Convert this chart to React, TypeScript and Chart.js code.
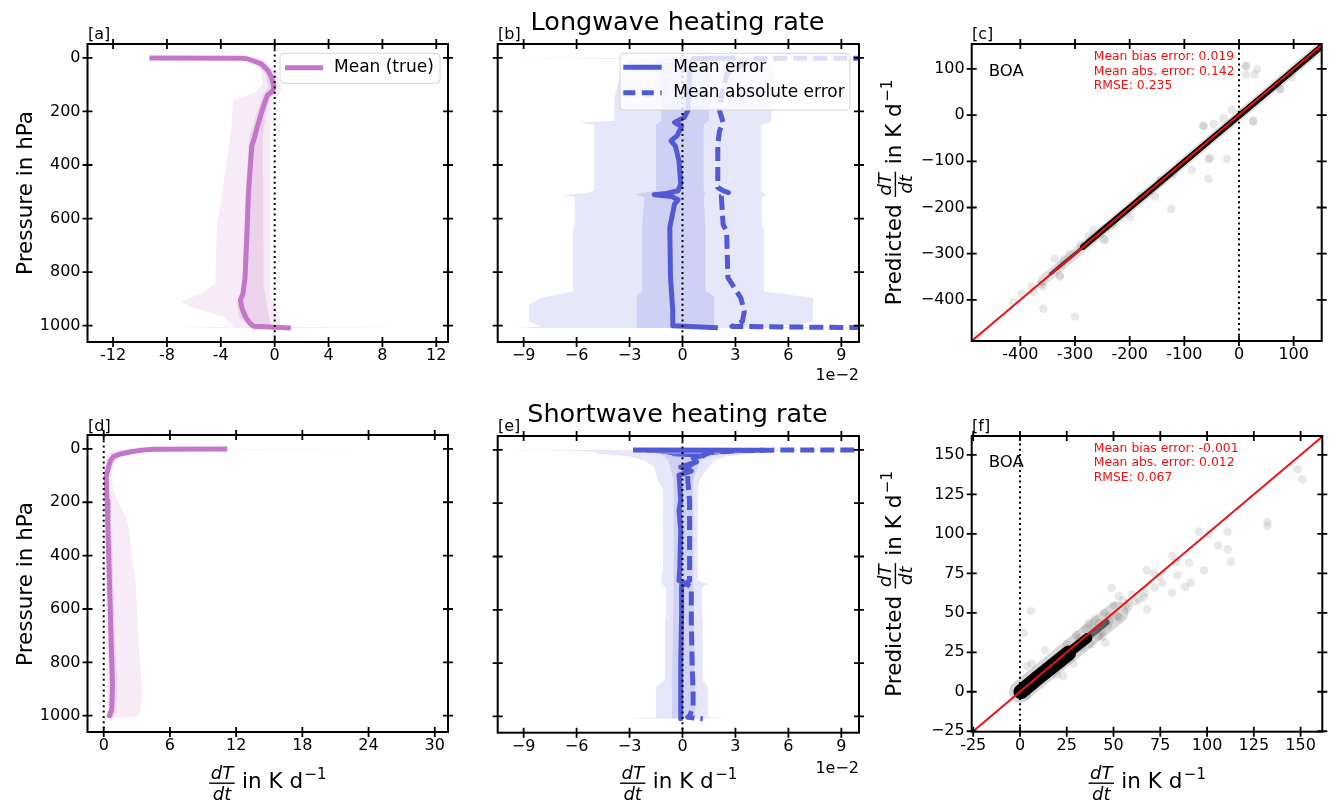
import React, { useEffect, useRef } from 'react';
import { Chart, registerables } from 'chart.js';

Chart.register(...registerables);

// ================= DATA =================
// Pressure axis ticks (shared by profile panels)
const P_TICKS = [0, 200, 400, 600, 800, 1000];
const P_LABELS = ['0', '200', '400', '600', '800', '1000'];

// ---- [a] Longwave: true heating rate (K d-1)
const A_XTICKS = [-12, -8, -4, 0, 4, 8, 12];
const A_XLABELS = ['-12', '-8', '-4', '0', '4', '8', '12'];
const A_P = [0.2, 1.5, 4, 22, 47, 72, 100, 115, 125, 141, 175, 200, 250, 297, 330, 400, 508, 645, 820, 880, 905, 940, 969, 990, 1002, 1009];
const A_MEAN = [-9.3, -2.35, -1.98, -1.0, -0.5, -0.24, -0.1, -0.08, -0.2, -0.55, -0.8, -0.95, -1.25, -1.5, -1.7, -1.8, -1.95, -2.05, -2.2, -2.35, -2.55, -2.4, -2.15, -1.85, -1.55, 1.2];
const A_OUT_P = [0, 3.5, 6, 22, 50, 100, 130, 157, 255, 330, 505, 630, 840, 880, 910, 930, 965, 995, 1004, 1010];
const A_OUT_L = [-12.8, -4.0, -2.6, -1.5, -1.0, -0.9, -1.5, -3.1, -3.2, -3.4, -3.9, -4.3, -4.4, -5.4, -7.0, -6.2, -3.9, -3.2, -3.0, -8.2];
const A_OUT_R = [0.0, -1.4, -1.0, -0.4, 0.1, 0.5, 0.5, -0.2, -0.35, -0.35, -0.35, -0.35, -0.35, -0.3, -0.2, 0.1, 0.35, 0.45, 0.4, 11.9];
const A_IN_P = [0.2, 1.5, 22, 60, 110, 140, 200, 300, 500, 700, 850, 920, 970, 1000, 1009];
const A_IN_L = [-9.5, -2.6, -1.3, -0.7, -0.5, -0.9, -1.3, -1.9, -2.15, -2.3, -2.4, -2.8, -2.6, -1.9, -1.9];
const A_IN_R = [-2.0, -1.6, -0.7, -0.1, 0.1, -0.3, -0.6, -0.9, -0.85, -0.85, -0.8, -0.6, -0.4, -0.3, 1.5];

// ---- [b] Longwave errors (units of 1e-2 K d-1)
const E_XTICKS = [-9, -6, -3, 0, 3, 6, 9];
const E_XLABELS = ['\u22129', '\u22126', '\u22123', '0', '3', '6', '9'];
const B_ME_P = [0.2, 2, 60, 147, 197, 222, 241, 255, 290, 309, 330, 384, 471, 496, 506, 511, 518, 530, 546, 633, 820, 944, 1000, 1008];
const B_ME = [3.0, 0.6, 0.4, 0.35, 0.3, 0.1, -0.45, -0.05, -0.3, -0.65, -0.4, -0.2, -0.1, -0.25, -0.9, -1.6, -0.6, -0.25, -0.45, -0.72, -0.68, -0.55, -0.55, 2.0];
const B_MAE_P = [0.2, 2, 60, 147, 197, 241, 272, 322, 484, 496, 503, 515, 622, 647, 820, 896, 946, 984, 1003, 1010];
const B_MAE = [15, 4, 2.5, 2.2, 2.1, 2.3, 2.1, 2.0, 2.0, 2.3, 2.6, 2.2, 2.3, 2.5, 2.57, 3.3, 3.5, 3.4, 2.8, 15];
const B_OUT_P = [0, 4, 60, 147, 235, 241, 250, 496, 505, 511, 520, 621, 634, 871, 896, 921, 984, 996, 1003, 1009];
const B_OUT_L = [-10.5, -3.0, -3.5, -3.86, -3.86, -5.9, -5.0, -5.0, -5.5, -6.8, -6.1, -6.1, -6.2, -6.2, -8.0, -8.7, -8.7, -8.3, -8.0, -9.6];
const B_OUT_R = [10.0, 5.0, 5.2, 5.2, 5.0, 5.0, 4.45, 4.45, 4.6, 4.8, 4.5, 4.5, 4.6, 4.6, 7.4, 7.4, 7.4, 6.5, 5.0, 10.0];
const B_IN_P = [0.2, 1.5, 60, 147, 235, 250, 496, 509, 520, 634, 871, 890, 996, 1009];
const B_IN_L = [-3.0, -1.5, -1.3, -1.2, -1.2, -1.5, -1.5, -2.7, -2.15, -2.3, -2.3, -2.6, -2.6, -2.6];
const B_IN_R = [3.0, 1.6, 1.5, 1.5, 1.5, 1.2, 1.2, 1.3, 1.2, 1.3, 1.3, 1.8, 1.8, 1.8];

// ---- [c] Longwave scatter (K d-1), BOA
const C_TICKS = [-400, -300, -200, -100, 0, 100];
const C_XLABELS = ['-400', '-300', '-200', '-100', '0', '100'];
const C_YLABELS = ['\u2212400', '\u2212300', '\u2212200', '\u2212100', '0', '100'];
const C_X = [11.6, 33, 12.8, 28.4, 75.8, 97, -64.8, 25.7, -55.7, -22, -55.7, -124, -199, -245, -337, -328, -358, -300, -413, -380, -397, -362, -480, -324.6, -359, -376, -327.5, -266.5, -248, -153.7, -144.5, -86.5, -53, -65.3, -47, 1.8, 26.2, 75, 14, -13.4, -28.7, -290, -275, -230, -310, -320, -180, -120];
const C_Y = [107, 100, 87.7, 87.7, 56.7, 82, -22.7, -11.9, -94.8, -94.8, -138, -203, -221, -270, -311, -347, -419, -436, -405, -371, -387, -366, -478, -324, -371, -382, -349.6, -248.5, -268.7, -176, -140, -118.6, -93.3, -23.4, -19, 5.4, -14, 56, 106.5, 11.3, -6.7, -280, -262, -238, -300, -312, -175, -128];
const C_CORE_X = [-285, -250, -150, -50, 50, 148];
const C_CORE_Y = [-285, -250, -151, -51, 48, 146];
const C_TAIL_X = [-345, -300, -270];
const C_TAIL_Y = [-344, -300, -270];
const C_HALO_X = [-360, -250, -100, 50, 150];
const C_HALO_Y = [-359, -251, -101, 48, 148];
const C_STATS = ['Mean bias error: 0.019', 'Mean abs. error: 0.142', 'RMSE: 0.235'];

// ---- [d] Shortwave: true heating rate (K d-1)
const D_XTICKS = [0, 6, 12, 18, 24, 30];
const D_XLABELS = ['0', '6', '12', '18', '24', '30'];
const D_P = [0.2, 1, 5, 10, 18, 28, 45, 70, 106, 193, 300, 442, 691, 890, 977, 1008];
const D_MEAN = [11.2, 4.5, 3.4, 2.6, 1.6, 0.9, 0.6, 0.42, 0.22, 0.3, 0.38, 0.48, 0.65, 0.8, 0.72, 0.45];
const D_OUT_P = [0, 3.5, 6, 12, 20, 40, 80, 115, 140, 165, 200, 252, 300, 375, 500, 625, 752, 914, 990, 1008];
const D_OUT_L = [0.5, 2.0, 1.5, 0.6, 0.3, 0.15, 0.05, 0.0, 0.02, 0.05, 0.1, 0.12, 0.15, 0.17, 0.2, 0.22, 0.25, 0.3, 0.3, 0.3];
const D_OUT_R = [29.8, 8.0, 4.5, 3.0, 2.0, 1.2, 0.8, 0.6, 0.85, 1.0, 1.3, 2.0, 2.3, 2.45, 2.9, 3.05, 3.2, 3.5, 3.3, 2.9];
const D_IN_P = [0.2, 1, 5, 12, 20, 40, 80, 115, 200, 400, 700, 900, 990, 1008];
const D_IN_L = [4.0, 3.8, 2.8, 2.0, 1.2, 0.5, 0.3, 0.15, 0.18, 0.3, 0.45, 0.55, 0.5, 0.35];
const D_IN_R = [11.5, 5.0, 3.8, 2.8, 1.8, 1.0, 0.6, 0.35, 0.5, 0.8, 1.0, 1.25, 1.1, 0.9];

// ---- [e] Shortwave errors (units of 1e-2 K d-1)
const E_ME_P = [0.2, 1, 2, 3, 4, 5, 6, 8, 10, 12, 15, 20, 30, 45, 55, 65, 80, 95, 115, 190, 227, 300, 440, 490, 502, 509, 520, 615, 800, 1002, 1009];
const E_ME = [-2.8, 4.6, -2.0, 3.2, -1.5, 2.5, -1.2, 2.0, -0.8, 1.5, -0.5, 1.2, 0.6, 0.8, 0.3, -0.1, 0.5, -0.2, -0.17, -0.1, -0.2, -0.1, -0.15, -0.2, 0.2, -0.05, -0.05, -0.05, -0.1, -0.1, -0.1];
const E_MAE_P = [0.2, 1, 3, 6, 10, 20, 40, 65, 90, 115, 190, 300, 490, 502, 515, 640, 815, 902, 965, 998, 1003, 1009];
const E_MAE = [12, 5, 3, 2.5, 1.5, 1.2, 0.8, 0.3, 0.3, 0.3, 0.4, 0.4, 0.4, 0.2, 0.5, 0.5, 0.55, 0.6, 0.6, 0.4, 0.3, 1.15];
const E_OUT_P = [0, 4, 6, 15, 25, 40, 65, 90, 115, 150, 440, 490, 502, 515, 627, 640, 865, 890, 1002, 1009];
const E_OUT_L = [-10.5, -6.0, -5.0, -4.8, -3.0, -2.15, -1.6, -1.5, -1.4, -1.1, -1.1, -1.2, -1.2, -0.93, -0.93, -1.0, -1.0, -1.5, -1.5, -3.1];
const E_OUT_R = [10.0, 6.0, 4.5, 3.9, 2.5, 1.8, 1.5, 1.2, 0.96, 0.87, 0.87, 0.87, 1.44, 1.1, 1.1, 1.15, 1.15, 1.44, 1.44, 2.5];
const E_IN_P = [0.2, 1, 5, 15, 40, 115, 500, 900, 1002, 1009];
const E_IN_L = [-3.0, -2.5, -1.8, -1.2, -0.8, -0.5, -0.5, -0.6, -0.6, -0.6];
const E_IN_R = [5.0, 4.0, 3.0, 2.0, 1.0, 0.6, 0.6, 0.7, 0.7, 0.7];

// ---- [f] Shortwave scatter (K d-1), BOA
const F_TICKS = [-25, 0, 25, 50, 75, 100, 125, 150];
const F_XLABELS = ['-25', '0', '25', '50', '75', '100', '125', '150'];
const F_YLABELS = ['\u221225', '0', '25', '50', '75', '100', '125', '150'];
const F_X = [148.4, 151, 132.3, 132.3, 110.9, 95.7, 101, 111, 112.7, 105.9, 98.4, 90.4, 84.1, 88.3, 81.4, 91.2, 83.2, 81.4, 67.7, 74.3, 71.6, 76, 67, 60, 63.6, 68, 49, 52.8, 58.2, 45.7, 42.1, 47.5, 44, 36.8, 5.9, 2, 3.8, 6.3, 13.4, 31.2, 13.4, 19.7, 28.6, 23, 3.9, 2.1, 30, 35, 40, 45, 50, 55, 38, 42, 25, 47, 52, 57, 62, 66, 72, 44, 48, 53, 39, 33, 58];
const F_Y = [140.9, 134.6, 107.5, 105, 101.4, 101.4, 100, 90.2, 82.4, 92.8, 76.9, 81.7, 73.8, 66.5, 62.7, 69, 82, 86, 76.9, 73, 75, 69, 62.7, 61.7, 58.5, 52, 65.9, 60.6, 56.4, 31, 43.7, 48, 35, 43.7, 51.1, 37.4, 16.3, 17.9, 26.3, 33.7, 9.9, 10.9, 17.9, 9.9, -2.7, -1.6, 36, 40, 46, 50, 55, 58, 30, 35, 30, 42, 48, 52, 57, 60, 66, 38, 45, 47, 41, 28, 54];
const F_CORE_X = [0.5, 10, 20, 26];
const F_CORE_Y = [0, 9.3, 18.8, 24.5];
const F_CORE2_X = [0.5, 18, 36];
const F_CORE2_Y = [0, 17, 34];
const F_CORE3_X = [0, 25, 46];
const F_CORE3_Y = [0, 23.8, 44];
const F_HALO_X = [0, 20, 40, 52];
const F_HALO_Y = [0, 19.5, 39, 50];
const F_STATS = ['Mean bias error: -0.001', 'Mean abs. error: 0.012', 'RMSE: 0.067'];

// ================= STYLE =================
const FAM = '"DejaVu Sans", "Liberation Sans", sans-serif';
const PINK = '#c476c8';
const PINK_OUT = 'rgba(196,118,200,0.15)';
const PINK_IN = 'rgba(196,118,200,0.22)';
const BLUE = '#5159d7';
const BLUE_OUT = 'rgba(81,89,215,0.14)';
const BLUE_IN = 'rgba(81,89,215,0.16)';
const DASH = [14, 6];
const DOT = [2, 3.3];
const LW = 5;
const PT_FILL = 'rgba(0,0,0,0.09)';

const zip = (xs: number[], ys: number[]) => xs.map((x, i) => ({ x, y: ys[i] }));
const F = (size: number, style = '') => `${style ? style + ' ' : ''}${size}px ${FAM}`;

function band(P: number[], L: number[], R: number[], color: string, order: number) {
  return [
    { data: zip(L, P), borderWidth: 0, borderColor: 'transparent', pointRadius: 0, fill: false, order },
    { data: zip(R, P), borderWidth: 0, borderColor: 'transparent', pointRadius: 0, fill: '-1', backgroundColor: color, order },
  ];
}
function line(X: number[], Y: number[], color: string, width: number, order: number, dash: number[] = [], cap = 'butt') {
  return { data: zip(X, Y), borderColor: color, borderWidth: width, borderDash: dash, pointRadius: 0, fill: false, order, borderJoinStyle: 'round', borderCapStyle: cap, showLine: true };
}
function zeroLine(yMin: number, yMax: number) {
  return line([0, 0], [yMin, yMax], '#000', 2, 1, DOT);
}
function points(X: number[], Y: number[]) {
  return { data: zip(X, Y), pointRadius: 4.3, backgroundColor: PT_FILL, borderWidth: 0, borderColor: 'transparent', order: 10 };
}

// ================= DECOR =================
function text(ctx: CanvasRenderingContext2D, s: string, x: number, y: number, size: number, align: CanvasTextAlign = 'left', color = '#000', baseline: CanvasTextBaseline = 'alphabetic') {
  ctx.font = F(size);
  ctx.fillStyle = color;
  ctx.textAlign = align;
  ctx.textBaseline = baseline;
  ctx.fillText(s, x, y);
}
function rotText(ctx: CanvasRenderingContext2D, s: string, bx: number, cy: number, size: number) {
  ctx.save();
  ctx.translate(bx, cy);
  ctx.rotate(-Math.PI / 2);
  text(ctx, s, 0, 0, size, 'center');
  ctx.restore();
}
function dTdt(ctx: CanvasRenderingContext2D, cx: number, cy: number, rotated: boolean, prefix: string) {
  const main = 21.5, frac = 18, sup = 15;
  ctx.save();
  ctx.font = F(main);
  const wPre = prefix ? ctx.measureText(prefix).width : 0;
  const wMid = ctx.measureText(' in K d').width;
  ctx.font = F(frac, 'italic');
  const wFrac = Math.max(ctx.measureText('dT').width, ctx.measureText('dt').width) + 4;
  ctx.font = F(sup);
  const wSup = ctx.measureText('\u22121').width;
  const total = wPre + wFrac + wMid + 1.5 + wSup;
  ctx.translate(cx, cy);
  if (rotated) ctx.rotate(-Math.PI / 2);
  let x = -total / 2;
  ctx.fillStyle = '#000';
  ctx.textBaseline = 'alphabetic';
  ctx.textAlign = 'left';
  if (prefix) { ctx.font = F(main); ctx.fillText(prefix, x, 0); x += wPre; }
  ctx.font = F(frac, 'italic');
  ctx.textAlign = 'center';
  ctx.fillText('dT', x + wFrac / 2, -9.5);
  ctx.fillText('dt', x + wFrac / 2, 11.5);
  ctx.fillRect(x + 0.5, -5.8, wFrac - 1, 1.4);
  x += wFrac;
  ctx.textAlign = 'left';
  ctx.font = F(main);
  ctx.fillText(' in K d', x, 0);
  x += wMid + 1.5;
  ctx.font = F(sup);
  ctx.fillText('\u22121', x, -9);
  ctx.restore();
}
function legendBox(ctx: CanvasRenderingContext2D, x: number, y: number, w: number, h: number) {
  const r = 4;
  ctx.beginPath();
  ctx.moveTo(x + r, y);
  ctx.arcTo(x + w, y, x + w, y + h, r);
  ctx.arcTo(x + w, y + h, x, y + h, r);
  ctx.arcTo(x, y + h, x, y, r);
  ctx.arcTo(x, y, x + w, y, r);
  ctx.closePath();
  ctx.fillStyle = 'rgba(255,255,255,0.8)';
  ctx.fill();
  ctx.strokeStyle = '#d4d4d4';
  ctx.lineWidth = 1;
  ctx.stroke();
}
function legendLine(ctx: CanvasRenderingContext2D, x1: number, x2: number, y: number, color: string, dash: number[]) {
  ctx.save();
  ctx.strokeStyle = color;
  ctx.lineWidth = LW;
  ctx.setLineDash(dash);
  ctx.beginPath();
  ctx.moveTo(x1, y);
  ctx.lineTo(x2, y);
  ctx.stroke();
  ctx.restore();
}
function stats(ctx: CanvasRenderingContext2D, lines: string[], x: number, y0: number) {
  lines.forEach((s, i) => text(ctx, s, x, y0 + i * 14.5, 12.4, 'left', '#ee1111'));
}

// ================= PANELS =================
type Axis = { min: number; max: number; ticks: number[]; labels: string[] | null; reverse?: boolean };
type Panel = { id: string; type: string; canvas: number[]; area: number[]; indexAxis: string; x: Axis; y: Axis; datasets: any[]; decor: (ctx: CanvasRenderingContext2D) => void };

const YMIN = -52, YMAX = 1061;

const PANELS: Panel[] = [
  {
    id: 'a', type: 'line', canvas: [0, 0, 460, 390], area: [87.5, 44, 448, 342], indexAxis: 'y',
    x: { min: -13.9, max: 12.87, ticks: A_XTICKS, labels: A_XLABELS },
    y: { min: YMIN, max: YMAX, reverse: true, ticks: P_TICKS, labels: P_LABELS },
    datasets: [
      ...band(A_OUT_P, A_OUT_L, A_OUT_R, PINK_OUT, 20),
      ...band(A_IN_P, A_IN_L, A_IN_R, PINK_IN, 15),
      line(A_MEAN, A_P, PINK, LW, 5),
      zeroLine(YMIN, YMAX),
    ],
    decor: (ctx) => {
      text(ctx, '[a]', 88, 38.7, 16);
      rotText(ctx, 'Pressure in hPa', 31.5, 193, 21.5);
      legendBox(ctx, 280, 53.3, 160, 30);
      legendLine(ctx, 285, 323, 67.7, PINK, []);
      text(ctx, 'Mean (true)', 334, 67.7, 17, 'left', '#000', 'middle');
    },
  },
  {
    id: 'b', type: 'line', canvas: [460, 0, 420, 390], area: [497.7, 44, 859, 342], indexAxis: 'y',
    x: { min: -10.47, max: 10.0, ticks: E_XTICKS, labels: E_XLABELS },
    y: { min: YMIN, max: YMAX, reverse: true, ticks: P_TICKS, labels: null },
    datasets: [
      ...band(B_OUT_P, B_OUT_L, B_OUT_R, BLUE_OUT, 20),
      ...band(B_IN_P, B_IN_L, B_IN_R, BLUE_IN, 15),
      line(B_MAE, B_MAE_P, BLUE, LW, 6, DASH),
      line(B_ME, B_ME_P, BLUE, LW, 5),
      zeroLine(YMIN, YMAX),
    ],
    decor: (ctx) => {
      text(ctx, '[b]', 498, 38.7, 16);
      text(ctx, 'Longwave heating rate', 677.5, 30, 25.5, 'center');
      legendBox(ctx, 620, 53.3, 230, 56.7);
      legendLine(ctx, 623.3, 661.7, 67.3, BLUE, []);
      legendLine(ctx, 623.3, 661.7, 92.7, BLUE, [12, 6.5]);
      text(ctx, 'Mean error', 673.3, 67.3, 17, 'left', '#000', 'middle');
      text(ctx, 'Mean absolute error', 673.3, 92.7, 17, 'left', '#000', 'middle');
      text(ctx, '1e\u22122', 859, 380, 16, 'right');
    },
  },
  {
    id: 'c', type: 'scatter', canvas: [872, 0, 458, 390], area: [971.7, 44, 1321.7, 341], indexAxis: 'x',
    x: { min: -489, max: 151.3, ticks: C_TICKS, labels: C_XLABELS },
    y: { min: -489, max: 154, ticks: C_TICKS, labels: C_YLABELS },
    datasets: [
      line(C_HALO_X, C_HALO_Y, 'rgba(0,0,0,0.13)', 10, 12, [], 'round'),
      points(C_X, C_Y),
      line(C_TAIL_X, C_TAIL_Y, 'rgba(0,0,0,0.7)', 3.5, 5, [], 'round'),
      line(C_CORE_X, C_CORE_Y, '#000', 6, 4, [], 'round'),
      zeroLine(-489, 154),
      line([-489, 154], [-489, 154], '#ee1111', 2, 0),
    ],
    decor: (ctx) => {
      text(ctx, '[c]', 972, 38.7, 16);
      text(ctx, 'BOA', 988.7, 75.7, 16.5);
      stats(ctx, C_STATS, 1093.7, 60);
      dTdt(ctx, 900.5, 192.5, true, 'Predicted ');
    },
  },
  {
    id: 'd', type: 'line', canvas: [0, 390, 460, 413], area: [87.5, 435, 448, 732], indexAxis: 'y',
    x: { min: -1.47, max: 31.2, ticks: D_XTICKS, labels: D_XLABELS },
    y: { min: YMIN, max: YMAX, reverse: true, ticks: P_TICKS, labels: P_LABELS },
    datasets: [
      ...band(D_OUT_P, D_OUT_L, D_OUT_R, PINK_OUT, 20),
      ...band(D_IN_P, D_IN_L, D_IN_R, PINK_IN, 15),
      line(D_MEAN, D_P, PINK, LW, 5),
      zeroLine(YMIN, YMAX),
    ],
    decor: (ctx) => {
      text(ctx, '[d]', 88, 430.7, 16);
      rotText(ctx, 'Pressure in hPa', 31.5, 584, 21.5);
      dTdt(ctx, 267.7, 788.3, false, '');
    },
  },
  {
    id: 'e', type: 'line', canvas: [460, 390, 420, 413], area: [497.7, 436, 859, 732.7], indexAxis: 'y',
    x: { min: -10.47, max: 10.0, ticks: E_XTICKS, labels: E_XLABELS },
    y: { min: YMIN, max: YMAX, reverse: true, ticks: P_TICKS, labels: null },
    datasets: [
      ...band(E_OUT_P, E_OUT_L, E_OUT_R, BLUE_OUT, 20),
      ...band(E_IN_P, E_IN_L, E_IN_R, BLUE_IN, 15),
      line(E_MAE, E_MAE_P, BLUE, LW, 6, DASH),
      line(E_ME, E_ME_P, BLUE, LW, 5),
      zeroLine(YMIN, YMAX),
    ],
    decor: (ctx) => {
      text(ctx, '[e]', 498, 431.3, 16);
      text(ctx, 'Shortwave heating rate', 677.5, 422.3, 25.5, 'center');
      text(ctx, '1e\u22122', 859, 773.3, 16, 'right');
      dTdt(ctx, 678.4, 788.3, false, '');
    },
  },
  {
    id: 'f', type: 'scatter', canvas: [872, 390, 458, 413], area: [971.7, 436, 1322.3, 731.7], indexAxis: 'x',
    x: { min: -25.8, max: 161.6, ticks: F_TICKS, labels: F_XLABELS },
    y: { min: -25.3, max: 162, ticks: F_TICKS, labels: F_YLABELS },
    datasets: [
      line(F_HALO_X, F_HALO_Y, 'rgba(0,0,0,0.16)', 22, 12, [], 'round'),
      points(F_X, F_Y),
      line(F_CORE3_X, F_CORE3_Y, 'rgba(0,0,0,0.55)', 7, 7, [], 'round'),
      line(F_CORE2_X, F_CORE2_Y, '#000', 10, 6, [], 'round'),
      line(F_CORE_X, F_CORE_Y, '#000', 15, 4, [], 'round'),
      zeroLine(-25.3, 162),
      line([-25.8, 162], [-25.8, 162], '#ee1111', 2, 0),
    ],
    decor: (ctx) => {
      text(ctx, '[f]', 972, 430.7, 16);
      text(ctx, 'BOA', 988.7, 466.7, 16.5);
      stats(ctx, F_STATS, 1093.7, 451.7);
      dTdt(ctx, 900.5, 583.9, true, 'Predicted ');
      dTdt(ctx, 1147, 788.3, false, '');
    },
  },
];

// ================= CHART BUILD =================
const framePlugin = {
  id: 'frameTicks',
  afterDatasetsDraw(chart: any) {
    const { ctx, chartArea: a } = chart;
    const xs = chart.scales.x, ys = chart.scales.y;
    ctx.save();
    ctx.strokeStyle = '#000';
    ctx.lineWidth = 1.8;
    ctx.beginPath();
    xs.ticks.forEach((t: any) => {
      const px = xs.getPixelForValue(t.value);
      ctx.moveTo(px, a.bottom - 5); ctx.lineTo(px, a.bottom + 5);
      ctx.moveTo(px, a.top - 5); ctx.lineTo(px, a.top + 5);
    });
    ys.ticks.forEach((t: any) => {
      const py = ys.getPixelForValue(t.value);
      ctx.moveTo(a.left - 5, py); ctx.lineTo(a.left + 5, py);
      ctx.moveTo(a.right - 5, py); ctx.lineTo(a.right + 5, py);
    });
    ctx.stroke();
    ctx.lineWidth = 2;
    ctx.strokeRect(a.left, a.top, a.right - a.left, a.bottom - a.top);
    ctx.restore();
  },
};

function buildConfig(p: Panel): any {
  const [cx, cy, cw, ch] = p.canvas;
  const [l, t, r, b] = p.area;
  const tickFont = { family: FAM, size: 16 };
  const scale = (ax: Axis, horizontal: boolean) => ({
    type: 'linear',
    position: horizontal ? 'bottom' : 'left',
    min: ax.min,
    max: ax.max,
    reverse: !!ax.reverse,
    grid: { display: false, drawTicks: false },
    border: { display: false },
    ticks: {
      display: !!ax.labels,
      font: tickFont,
      color: '#000',
      padding: horizontal ? 4.5 : 7,
      autoSkip: false,
      maxRotation: 0,
      minRotation: 0,
      callback: (_v: any, i: number) => (ax.labels ? ax.labels[i] : ''),
    },
    afterBuildTicks: (s: any) => { s.ticks = ax.ticks.map((v) => ({ value: v })); },
    afterFit: (s: any) => {
      if (horizontal) s.height = cy + ch - b;
      else s.width = l - cx;
    },
  });
  const decorPlugin = {
    id: 'decor_' + p.id,
    afterDraw(chart: any) {
      const ctx = chart.ctx as CanvasRenderingContext2D;
      ctx.save();
      ctx.translate(-cx, -cy);
      p.decor(ctx);
      ctx.restore();
    },
  };
  return {
    type: p.type,
    data: { datasets: p.datasets },
    options: {
      animation: false,
      responsive: false,
      maintainAspectRatio: false,
      indexAxis: p.indexAxis,
      events: [],
      layout: { padding: { left: 0, top: t - cy, right: cx + cw - r, bottom: 0 } },
      elements: { line: { tension: 0 } },
      plugins: { legend: { display: false }, tooltip: { enabled: false }, title: { display: false } },
      scales: { x: scale(p.x, true), y: scale(p.y, false) },
    },
    plugins: [framePlugin, decorPlugin],
  };
}

export default function App() {
  const refs = useRef<(HTMLCanvasElement | null)[]>([]);
  useEffect(() => {
    document.body.style.margin = '0';
    const charts = PANELS.map((p, i) => new Chart(refs.current[i] as HTMLCanvasElement, buildConfig(p)));
    return () => charts.forEach((c) => c.destroy());
  }, []);
  return (
    <div style={{ position: 'absolute', left: 0, top: 0, width: 1330, height: 803, background: '#fff', overflow: 'hidden' }}>
      {PANELS.map((p, i) => (
        <canvas
          key={p.id}
          ref={(el) => { refs.current[i] = el; }}
          width={p.canvas[2]}
          height={p.canvas[3]}
          style={{ position: 'absolute', left: p.canvas[0], top: p.canvas[1], width: p.canvas[2], height: p.canvas[3] }}
        />
      ))}
    </div>
  );
}
